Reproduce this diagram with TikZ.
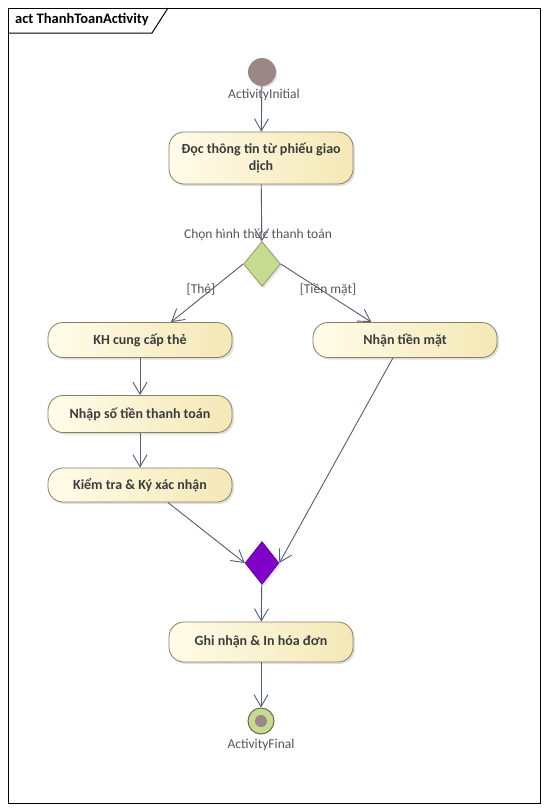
\documentclass[tikz,border=0pt]{standalone}
\usepackage{fontspec}
\setmainfont{Carlito}
\usepackage{tikz}
\usetikzlibrary{shapes,arrows.meta,shadows}

\definecolor{flowblue}{HTML}{535A7A}
\definecolor{actlight}{HTML}{FFFCEA}
\definecolor{actdark}{HTML}{F4E8B6}
\definecolor{actborder}{HTML}{8C7E60}
\definecolor{txtgray}{HTML}{3C3C3C}
\definecolor{lblgray}{HTML}{555555}
\definecolor{startmauve}{HTML}{9C8787}
\definecolor{decgreen}{HTML}{C5DB8F}
\definecolor{mergepurple}{HTML}{8000C8}

\begin{document}
\begin{tikzpicture}[x=1pt, y=-1pt,
 action/.style={rectangle, rounded corners=15pt, draw=actborder, line width=0.8pt,
   left color=actlight, right color=actdark, minimum width=184pt, align=center,
   text=txtgray, font=\fontsize{14}{17}\selectfont\bfseries, inner sep=2pt,
   drop shadow={shadow xshift=2pt, shadow yshift=-2pt, opacity=0.25, fill=gray}},
 lbl/.style={draw=none, text=lblgray, font=\fontsize{13.5}{15}\selectfont, inner sep=1pt},
 flow/.style={draw=flowblue, line width=0.9pt, -{Straight Barb[length=12pt, width=14pt]}},
 decision/.style={diamond, draw=actborder, line width=0.6pt, inner sep=0pt, aspect=0.8,
   drop shadow={shadow xshift=2pt, shadow yshift=-2pt, opacity=0.2, fill=gray}}]

 \useasboundingbox (0,0) rectangle (547,811);

 % frame
 \draw[line width=1pt] (8,8) rectangle (540,803);
 \draw[line width=1pt] (8,33) -- (152,33) -- (168,8);
 \node[anchor=west, inner sep=0pt, font=\fontsize{14.5}{16}\selectfont\bfseries] (title) at (15,20) {act ThanhToanActivity};

 % initial and final
 \node[circle, fill=startmauve, inner sep=0pt, minimum size=28pt,
   drop shadow={shadow xshift=1.5pt, shadow yshift=-1.5pt, opacity=0.2, fill=gray}] (start) at (262,72) {};
 \node[circle, draw=actborder!80!black, fill=decgreen, line width=1pt, inner sep=0pt, minimum size=26pt] (final) at (261,721) {};
 \node[circle, fill=startmauve, inner sep=0pt, minimum size=12pt] (finaldot) at (final) {};

 % actions
 \node[action, minimum height=52pt] (read) at (261,158) {Đọc thông tin từ phiếu giao\\dịch};
 \node[action, minimum height=35pt] (card) at (140,340) {KH cung cấp thẻ};
 \node[action, minimum height=35pt] (cash) at (405,340) {Nhận tiền mặt};
 \node[action, minimum height=37pt] (amount) at (140,414) {Nhập số tiền thanh toán};
 \node[action, minimum height=34pt] (sign) at (140,485) {Kiểm tra \& Ký xác nhận};
 \node[action, minimum height=40pt] (record) at (261,642) {Ghi nhận \& In hóa đơn};

 % decisions
 \node[decision, fill=decgreen, minimum width=37pt, minimum height=45pt] (choose) at (262,264) {};
 \node[decision, fill=mergepurple, draw=mergepurple!70!black, minimum width=34pt, minimum height=43pt] (merge) at (262,563) {};

 % arrows
 \draw[flow] (start) -- (read);
 \draw[flow] (read) -- (choose);
 \draw[flow] (choose.west) -- (card.30);
 \draw[flow] (choose.east) -- (cash.152);
 \draw[flow] (card) -- (amount);
 \draw[flow] (amount) -- (sign);
 \draw[flow] (sign.-32) -- (merge.west);
 \draw[flow] (cash.236) -- (merge.east);
 \draw[flow] (merge) -- (record);
 \draw[flow] (record) -- (final);

 % legend
 \node[lbl] (startlbl) at (264,95) {ActivityInitial};
 \node[lbl] (chooselbl) at (258,235) {Chọn hình thức thanh toán};
 \node[lbl] (cardlbl) at (201,290) {[Thẻ]};
 \node[lbl] (cashlbl) at (328,290) {[Tiền mặt]};
 \node[lbl] (finallbl) at (261,745) {ActivityFinal};

\end{tikzpicture}
\end{document}
